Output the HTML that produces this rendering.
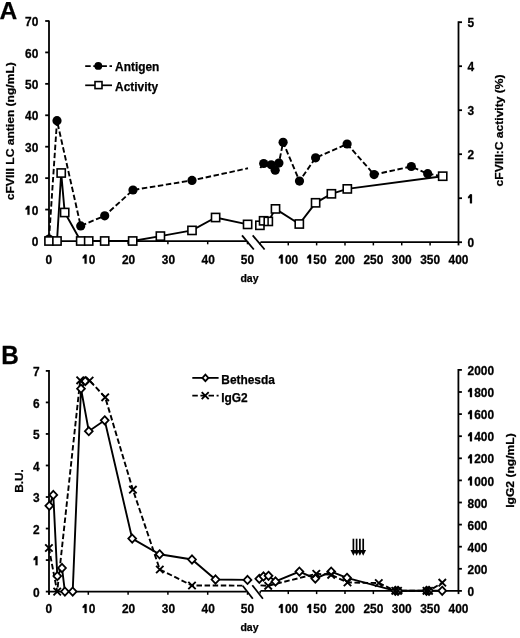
<!DOCTYPE html>
<html><head><meta charset="utf-8"><style>
html,body{margin:0;padding:0;background:#fff;width:520px;height:638px;overflow:hidden}
svg{display:block;filter:grayscale(1)}
text{fill:#000;stroke:#000;stroke-width:0.25px}
</style></head><body>
<svg width="520" height="638" viewBox="0 0 520 638" font-family='"Liberation Sans", sans-serif'>
<rect width="520" height="638" fill="#fff"/>
<text x="-0.6" y="19.4" font-size="24.6" text-anchor="start" font-weight="bold">A</text>
<line x1="49" y1="20.6" x2="49" y2="241.1" stroke="#000" stroke-width="1.8"/>
<line x1="45.2" y1="241.0" x2="49" y2="241.0" stroke="#000" stroke-width="1.8"/>
<text transform="translate(31.66,246.1) scale(1.02,1.06)" font-size="11.7" text-anchor="start" font-weight="bold">0</text>
<line x1="45.2" y1="209.57" x2="49" y2="209.57" stroke="#000" stroke-width="1.8"/>
<path d="M27.48,214.70V205.92H29.48V214.70Z" fill="#000" stroke="#000" stroke-width="0.25"/>
<path d="M27.53,205.92L29.03,205.92L27.63,209.22L25.58,209.72L25.58,208.22Z" fill="#000" stroke="#000" stroke-width="0.25"/>
<text transform="translate(31.66,214.7) scale(1.02,1.06)" font-size="11.7" text-anchor="start" font-weight="bold">0</text>
<line x1="45.2" y1="178.14" x2="49" y2="178.14" stroke="#000" stroke-width="1.8"/>
<text transform="translate(25.03,183.2) scale(1.02,1.06)" font-size="11.7" text-anchor="start" font-weight="bold">20</text>
<line x1="45.2" y1="146.71" x2="49" y2="146.71" stroke="#000" stroke-width="1.8"/>
<text transform="translate(25.03,151.8) scale(1.02,1.06)" font-size="11.7" text-anchor="start" font-weight="bold">30</text>
<line x1="45.2" y1="115.28" x2="49" y2="115.28" stroke="#000" stroke-width="1.8"/>
<text transform="translate(25.03,120.4) scale(1.02,1.06)" font-size="11.7" text-anchor="start" font-weight="bold">40</text>
<line x1="45.2" y1="83.85" x2="49" y2="83.85" stroke="#000" stroke-width="1.8"/>
<text transform="translate(25.03,88.9) scale(1.02,1.06)" font-size="11.7" text-anchor="start" font-weight="bold">50</text>
<line x1="45.2" y1="52.420000000000016" x2="49" y2="52.420000000000016" stroke="#000" stroke-width="1.8"/>
<text transform="translate(25.03,57.5) scale(1.02,1.06)" font-size="11.7" text-anchor="start" font-weight="bold">60</text>
<line x1="45.2" y1="20.99000000000001" x2="49" y2="20.99000000000001" stroke="#000" stroke-width="1.8"/>
<text transform="translate(25.03,26.1) scale(1.02,1.06)" font-size="11.7" text-anchor="start" font-weight="bold">70</text>
<line x1="458.5" y1="21.3" x2="458.5" y2="242.2" stroke="#000" stroke-width="1.8"/>
<line x1="458.5" y1="242.2" x2="462.0" y2="242.2" stroke="#000" stroke-width="1.8"/>
<text transform="translate(467.5,247.3) scale(1.02,1.06)" font-size="11.7" text-anchor="start" font-weight="bold">0</text>
<line x1="458.5" y1="198.2" x2="462.0" y2="198.2" stroke="#000" stroke-width="1.8"/>
<path d="M469.95,203.30V194.52H471.95V203.30Z" fill="#000" stroke="#000" stroke-width="0.25"/>
<path d="M470.00,194.52L471.50,194.52L470.10,197.82L468.05,198.32L468.05,196.82Z" fill="#000" stroke="#000" stroke-width="0.25"/>
<line x1="458.5" y1="154.2" x2="462.0" y2="154.2" stroke="#000" stroke-width="1.8"/>
<text transform="translate(467.5,159.3) scale(1.02,1.06)" font-size="11.7" text-anchor="start" font-weight="bold">2</text>
<line x1="458.5" y1="110.19999999999999" x2="462.0" y2="110.19999999999999" stroke="#000" stroke-width="1.8"/>
<text transform="translate(467.5,115.3) scale(1.02,1.06)" font-size="11.7" text-anchor="start" font-weight="bold">3</text>
<line x1="458.5" y1="66.19999999999999" x2="462.0" y2="66.19999999999999" stroke="#000" stroke-width="1.8"/>
<text transform="translate(467.5,71.3) scale(1.02,1.06)" font-size="11.7" text-anchor="start" font-weight="bold">4</text>
<line x1="458.5" y1="22.19999999999999" x2="462.0" y2="22.19999999999999" stroke="#000" stroke-width="1.8"/>
<text transform="translate(467.5,27.3) scale(1.02,1.06)" font-size="11.7" text-anchor="start" font-weight="bold">5</text>
<line x1="48.5" y1="241.1" x2="246.5" y2="241.1" stroke="#000" stroke-width="1.8"/>
<line x1="260.5" y1="242.2" x2="459" y2="242.2" stroke="#000" stroke-width="1.8"/>
<line x1="88.3" y1="241.1" x2="88.3" y2="244.29999999999998" stroke="#000" stroke-width="1.5"/>
<line x1="128.1" y1="241.1" x2="128.1" y2="244.29999999999998" stroke="#000" stroke-width="1.5"/>
<line x1="167.9" y1="241.1" x2="167.9" y2="244.29999999999998" stroke="#000" stroke-width="1.5"/>
<line x1="207.7" y1="241.1" x2="207.7" y2="244.29999999999998" stroke="#000" stroke-width="1.5"/>
<line x1="247.5" y1="241.1" x2="247.5" y2="244.29999999999998" stroke="#000" stroke-width="1.5"/>
<line x1="288.265" y1="242.2" x2="288.265" y2="245.39999999999998" stroke="#000" stroke-width="1.5"/>
<line x1="316.63" y1="242.2" x2="316.63" y2="245.39999999999998" stroke="#000" stroke-width="1.5"/>
<line x1="344.995" y1="242.2" x2="344.995" y2="245.39999999999998" stroke="#000" stroke-width="1.5"/>
<line x1="373.36" y1="242.2" x2="373.36" y2="245.39999999999998" stroke="#000" stroke-width="1.5"/>
<line x1="401.725" y1="242.2" x2="401.725" y2="245.39999999999998" stroke="#000" stroke-width="1.5"/>
<line x1="430.09" y1="242.2" x2="430.09" y2="245.39999999999998" stroke="#000" stroke-width="1.5"/>
<line x1="458.5" y1="242.2" x2="458.5" y2="245.39999999999998" stroke="#000" stroke-width="1.8"/>
<line x1="260.2" y1="242.2" x2="260.2" y2="244.7" stroke="#000" stroke-width="1.5"/>
<line x1="49" y1="241.1" x2="49" y2="244.29999999999998" stroke="#000" stroke-width="1.8"/>
<text transform="translate(45.48,263.6) scale(1.02,1.06)" font-size="11.7" text-anchor="start" font-weight="bold">0</text>
<path d="M84.61,263.60V254.82H86.61V263.60Z" fill="#000" stroke="#000" stroke-width="0.25"/>
<path d="M84.66,254.82L86.16,254.82L84.76,258.12L82.71,258.62L82.71,257.12Z" fill="#000" stroke="#000" stroke-width="0.25"/>
<text transform="translate(88.8,263.6) scale(1.02,1.06)" font-size="11.7" text-anchor="start" font-weight="bold">0</text>
<text transform="translate(121.96,263.6) scale(1.02,1.06)" font-size="11.7" text-anchor="start" font-weight="bold">20</text>
<text transform="translate(161.76,263.6) scale(1.02,1.06)" font-size="11.7" text-anchor="start" font-weight="bold">30</text>
<text transform="translate(201.56,263.6) scale(1.02,1.06)" font-size="11.7" text-anchor="start" font-weight="bold">40</text>
<text transform="translate(240.86,263.6) scale(1.02,1.06)" font-size="11.7" text-anchor="start" font-weight="bold">50</text>
<path d="M280.80,263.60V254.82H282.80V263.60Z" fill="#000" stroke="#000" stroke-width="0.25"/>
<path d="M280.85,254.82L282.35,254.82L280.95,258.12L278.90,258.62L278.90,257.12Z" fill="#000" stroke="#000" stroke-width="0.25"/>
<text transform="translate(284.98,263.6) scale(1.02,1.06)" font-size="11.7" text-anchor="start" font-weight="bold">00</text>
<path d="M309.10,263.60V254.82H311.10V263.60Z" fill="#000" stroke="#000" stroke-width="0.25"/>
<path d="M309.15,254.82L310.65,254.82L309.25,258.12L307.20,258.62L307.20,257.12Z" fill="#000" stroke="#000" stroke-width="0.25"/>
<text transform="translate(313.28,263.6) scale(1.02,1.06)" font-size="11.7" text-anchor="start" font-weight="bold">50</text>
<text transform="translate(335.05,263.6) scale(1.02,1.06)" font-size="11.7" text-anchor="start" font-weight="bold">200</text>
<text transform="translate(363.45,263.6) scale(1.02,1.06)" font-size="11.7" text-anchor="start" font-weight="bold">250</text>
<text transform="translate(391.75,263.6) scale(1.02,1.06)" font-size="11.7" text-anchor="start" font-weight="bold">300</text>
<text transform="translate(420.15,263.6) scale(1.02,1.06)" font-size="11.7" text-anchor="start" font-weight="bold">350</text>
<text transform="translate(448.55,263.6) scale(1.02,1.06)" font-size="11.7" text-anchor="start" font-weight="bold">400</text>
<text x="249.5" y="281.6" font-size="10.5" text-anchor="middle" font-weight="bold">day</text>
<text transform="translate(14.1,131.2) rotate(-90) scale(1.041,1)" font-size="11.6" font-weight="bold" text-anchor="middle">cFVIII LC antien (ng/mL)</text>
<text transform="translate(502.7,130.45) rotate(-90) scale(1.042,1)" font-size="11.6" font-weight="bold" text-anchor="middle">cFVIII:C activity (%)</text>
<line x1="242" y1="235.4" x2="253.8" y2="249.5" stroke="#000" stroke-width="1.8"/>
<line x1="252.7" y1="235.4" x2="264.6" y2="249.5" stroke="#000" stroke-width="1.8"/>
<polyline points="49,239 57,120.7 80.7,225.9 104.7,215.8 133,190 192,180.4 248,168.3" fill="none" stroke="#000" stroke-width="1.9" stroke-linejoin="miter" stroke-dasharray="5.5 2.6"/>
<polyline points="260.3,168.0 263.7,163.5 271.2,164.8 275.2,170.2 278.9,163.1 283.1,142.3 299.5,181.1 315.6,157.8 347.1,144 374.1,174.6 411.3,166.5 427.7,173.7 442.7,176.2" fill="none" stroke="#000" stroke-width="1.9" stroke-linejoin="miter" stroke-dasharray="5.5 2.6"/>
<polyline points="49,241 57,241 61.2,173 64.7,212.5 80.7,241 88.7,241 104.7,241 132.7,241 160.4,236.1 192,230.4 215.6,217.5 247.6,224.4" fill="none" stroke="#000" stroke-width="1.9" stroke-linejoin="miter"/>
<polyline points="259.9,225.3 263.6,220.8 268.3,221.4 275.5,208.9 299.3,224 315.6,202.8 331.4,193.8 347.3,188.9 442.7,176.2" fill="none" stroke="#000" stroke-width="1.9" stroke-linejoin="miter"/>
<circle cx="49" cy="239" r="4.6" fill="#000"/>
<circle cx="57" cy="120.7" r="4.6" fill="#000"/>
<circle cx="80.7" cy="225.9" r="4.6" fill="#000"/>
<circle cx="104.7" cy="215.8" r="4.6" fill="#000"/>
<circle cx="133" cy="190" r="4.6" fill="#000"/>
<circle cx="192" cy="180.4" r="4.6" fill="#000"/>
<circle cx="263.7" cy="163.5" r="4.6" fill="#000"/>
<circle cx="271.2" cy="164.8" r="4.6" fill="#000"/>
<circle cx="275.2" cy="170.2" r="4.6" fill="#000"/>
<circle cx="278.9" cy="163.1" r="4.6" fill="#000"/>
<circle cx="283.1" cy="142.3" r="4.6" fill="#000"/>
<circle cx="299.5" cy="181.1" r="4.6" fill="#000"/>
<circle cx="315.6" cy="157.8" r="4.6" fill="#000"/>
<circle cx="347.1" cy="144" r="4.6" fill="#000"/>
<circle cx="374.1" cy="174.6" r="4.6" fill="#000"/>
<circle cx="411.3" cy="166.5" r="4.6" fill="#000"/>
<circle cx="427.7" cy="173.7" r="4.6" fill="#000"/>
<rect x="44.9" y="236.9" width="8.2" height="8.2" fill="#fff" stroke="#000" stroke-width="1.6"/>
<rect x="52.9" y="236.9" width="8.2" height="8.2" fill="#fff" stroke="#000" stroke-width="1.6"/>
<rect x="57.1" y="168.9" width="8.2" height="8.2" fill="#fff" stroke="#000" stroke-width="1.6"/>
<rect x="60.6" y="208.4" width="8.2" height="8.2" fill="#fff" stroke="#000" stroke-width="1.6"/>
<rect x="76.60000000000001" y="236.9" width="8.2" height="8.2" fill="#fff" stroke="#000" stroke-width="1.6"/>
<rect x="84.60000000000001" y="236.9" width="8.2" height="8.2" fill="#fff" stroke="#000" stroke-width="1.6"/>
<rect x="100.60000000000001" y="236.9" width="8.2" height="8.2" fill="#fff" stroke="#000" stroke-width="1.6"/>
<rect x="128.6" y="236.9" width="8.2" height="8.2" fill="#fff" stroke="#000" stroke-width="1.6"/>
<rect x="156.3" y="232.0" width="8.2" height="8.2" fill="#fff" stroke="#000" stroke-width="1.6"/>
<rect x="187.9" y="226.3" width="8.2" height="8.2" fill="#fff" stroke="#000" stroke-width="1.6"/>
<rect x="211.5" y="213.4" width="8.2" height="8.2" fill="#fff" stroke="#000" stroke-width="1.6"/>
<rect x="243.5" y="220.3" width="8.2" height="8.2" fill="#fff" stroke="#000" stroke-width="1.6"/>
<rect x="255.79999999999998" y="221.20000000000002" width="8.2" height="8.2" fill="#fff" stroke="#000" stroke-width="1.6"/>
<rect x="259.5" y="216.70000000000002" width="8.2" height="8.2" fill="#fff" stroke="#000" stroke-width="1.6"/>
<rect x="264.2" y="217.3" width="8.2" height="8.2" fill="#fff" stroke="#000" stroke-width="1.6"/>
<rect x="271.4" y="204.8" width="8.2" height="8.2" fill="#fff" stroke="#000" stroke-width="1.6"/>
<rect x="295.2" y="219.9" width="8.2" height="8.2" fill="#fff" stroke="#000" stroke-width="1.6"/>
<rect x="311.5" y="198.70000000000002" width="8.2" height="8.2" fill="#fff" stroke="#000" stroke-width="1.6"/>
<rect x="327.29999999999995" y="189.70000000000002" width="8.2" height="8.2" fill="#fff" stroke="#000" stroke-width="1.6"/>
<rect x="343.2" y="184.8" width="8.2" height="8.2" fill="#fff" stroke="#000" stroke-width="1.6"/>
<rect x="438.59999999999997" y="172.1" width="8.2" height="8.2" fill="#fff" stroke="#000" stroke-width="1.6"/>
<line x1="268.1" y1="217" x2="268.1" y2="225.6" stroke="#000" stroke-width="1.5"/>
<line x1="85.2" y1="66.2" x2="112" y2="66.2" stroke="#000" stroke-width="1.7" stroke-dasharray="5.5 2.6"/>
<circle cx="98.3" cy="65.9" r="3.9" fill="#000"/>
<text x="115.1" y="71.4" font-size="11.9" text-anchor="start" font-weight="bold">Antigen</text>
<line x1="85.2" y1="85.3" x2="112" y2="85.3" stroke="#000" stroke-width="1.7"/>
<rect x="95.0" y="81.6" width="7.0" height="7.0" fill="#fff" stroke="#000" stroke-width="1.6"/>
<text x="115.1" y="90.9" font-size="11.9" text-anchor="start" font-weight="bold">Activity</text>
<text transform="translate(1.2,363.8) scale(0.95,1)" font-size="25.6" text-anchor="start" font-weight="bold">B</text>
<line x1="49" y1="370.0" x2="49" y2="594.6" stroke="#000" stroke-width="1.8"/>
<line x1="45.8" y1="591.6" x2="49" y2="591.6" stroke="#000" stroke-width="1.8"/>
<text transform="translate(33.06,596.7) scale(1.02,1.06)" font-size="11.7" text-anchor="start" font-weight="bold">0</text>
<line x1="45.8" y1="560.07" x2="49" y2="560.07" stroke="#000" stroke-width="1.8"/>
<path d="M35.51,565.20V556.42H37.51V565.20Z" fill="#000" stroke="#000" stroke-width="0.25"/>
<path d="M35.56,556.42L37.06,556.42L35.66,559.72L33.61,560.22L33.61,558.72Z" fill="#000" stroke="#000" stroke-width="0.25"/>
<line x1="45.8" y1="528.54" x2="49" y2="528.54" stroke="#000" stroke-width="1.8"/>
<text transform="translate(33.06,533.6) scale(1.02,1.06)" font-size="11.7" text-anchor="start" font-weight="bold">2</text>
<line x1="45.8" y1="497.01" x2="49" y2="497.01" stroke="#000" stroke-width="1.8"/>
<text transform="translate(33.06,502.1) scale(1.02,1.06)" font-size="11.7" text-anchor="start" font-weight="bold">3</text>
<line x1="45.8" y1="465.48" x2="49" y2="465.48" stroke="#000" stroke-width="1.8"/>
<text transform="translate(33.06,470.6) scale(1.02,1.06)" font-size="11.7" text-anchor="start" font-weight="bold">4</text>
<line x1="45.8" y1="433.95000000000005" x2="49" y2="433.95000000000005" stroke="#000" stroke-width="1.8"/>
<text transform="translate(33.06,439.1) scale(1.02,1.06)" font-size="11.7" text-anchor="start" font-weight="bold">5</text>
<line x1="45.8" y1="402.42" x2="49" y2="402.42" stroke="#000" stroke-width="1.8"/>
<text transform="translate(33.06,407.5) scale(1.02,1.06)" font-size="11.7" text-anchor="start" font-weight="bold">6</text>
<line x1="45.8" y1="370.89" x2="49" y2="370.89" stroke="#000" stroke-width="1.8"/>
<text transform="translate(33.06,376.0) scale(1.02,1.06)" font-size="11.7" text-anchor="start" font-weight="bold">7</text>
<line x1="458.4" y1="369.0" x2="458.4" y2="590.9" stroke="#000" stroke-width="1.8"/>
<line x1="458.4" y1="590.9" x2="461.9" y2="590.9" stroke="#000" stroke-width="1.8"/>
<text transform="translate(467.5,596.0) scale(1.02,1.06)" font-size="11.7" text-anchor="start" font-weight="bold">0</text>
<line x1="458.4" y1="568.8" x2="461.9" y2="568.8" stroke="#000" stroke-width="1.8"/>
<text transform="translate(467.5,573.9) scale(1.02,1.06)" font-size="11.7" text-anchor="start" font-weight="bold">200</text>
<line x1="458.4" y1="546.6999999999999" x2="461.9" y2="546.6999999999999" stroke="#000" stroke-width="1.8"/>
<text transform="translate(467.5,551.8) scale(1.02,1.06)" font-size="11.7" text-anchor="start" font-weight="bold">400</text>
<line x1="458.4" y1="524.5999999999999" x2="461.9" y2="524.5999999999999" stroke="#000" stroke-width="1.8"/>
<text transform="translate(467.5,529.7) scale(1.02,1.06)" font-size="11.7" text-anchor="start" font-weight="bold">600</text>
<line x1="458.4" y1="502.5" x2="461.9" y2="502.5" stroke="#000" stroke-width="1.8"/>
<text transform="translate(467.5,507.6) scale(1.02,1.06)" font-size="11.7" text-anchor="start" font-weight="bold">800</text>
<line x1="458.4" y1="480.4" x2="461.9" y2="480.4" stroke="#000" stroke-width="1.8"/>
<path d="M469.95,485.50V476.72H471.95V485.50Z" fill="#000" stroke="#000" stroke-width="0.25"/>
<path d="M470.00,476.72L471.50,476.72L470.10,480.02L468.05,480.52L468.05,479.02Z" fill="#000" stroke="#000" stroke-width="0.25"/>
<text transform="translate(474.14,485.5) scale(1.02,1.06)" font-size="11.7" text-anchor="start" font-weight="bold">000</text>
<line x1="458.4" y1="458.29999999999995" x2="461.9" y2="458.29999999999995" stroke="#000" stroke-width="1.8"/>
<path d="M469.95,463.40V454.62H471.95V463.40Z" fill="#000" stroke="#000" stroke-width="0.25"/>
<path d="M470.00,454.62L471.50,454.62L470.10,457.92L468.05,458.42L468.05,456.92Z" fill="#000" stroke="#000" stroke-width="0.25"/>
<text transform="translate(474.14,463.4) scale(1.02,1.06)" font-size="11.7" text-anchor="start" font-weight="bold">200</text>
<line x1="458.4" y1="436.19999999999993" x2="461.9" y2="436.19999999999993" stroke="#000" stroke-width="1.8"/>
<path d="M469.95,441.30V432.52H471.95V441.30Z" fill="#000" stroke="#000" stroke-width="0.25"/>
<path d="M470.00,432.52L471.50,432.52L470.10,435.82L468.05,436.32L468.05,434.82Z" fill="#000" stroke="#000" stroke-width="0.25"/>
<text transform="translate(474.14,441.3) scale(1.02,1.06)" font-size="11.7" text-anchor="start" font-weight="bold">400</text>
<line x1="458.4" y1="414.09999999999997" x2="461.9" y2="414.09999999999997" stroke="#000" stroke-width="1.8"/>
<path d="M469.95,419.20V410.42H471.95V419.20Z" fill="#000" stroke="#000" stroke-width="0.25"/>
<path d="M470.00,410.42L471.50,410.42L470.10,413.72L468.05,414.22L468.05,412.72Z" fill="#000" stroke="#000" stroke-width="0.25"/>
<text transform="translate(474.14,419.2) scale(1.02,1.06)" font-size="11.7" text-anchor="start" font-weight="bold">600</text>
<line x1="458.4" y1="392.0" x2="461.9" y2="392.0" stroke="#000" stroke-width="1.8"/>
<path d="M469.95,397.10V388.32H471.95V397.10Z" fill="#000" stroke="#000" stroke-width="0.25"/>
<path d="M470.00,388.32L471.50,388.32L470.10,391.62L468.05,392.12L468.05,390.62Z" fill="#000" stroke="#000" stroke-width="0.25"/>
<text transform="translate(474.14,397.1) scale(1.02,1.06)" font-size="11.7" text-anchor="start" font-weight="bold">800</text>
<line x1="458.4" y1="369.9" x2="461.9" y2="369.9" stroke="#000" stroke-width="1.8"/>
<text transform="translate(467.5,375.0) scale(1.02,1.06)" font-size="11.7" text-anchor="start" font-weight="bold">2000</text>
<line x1="48.5" y1="591.6" x2="246.5" y2="591.6" stroke="#000" stroke-width="1.8"/>
<line x1="260.5" y1="590.9" x2="459" y2="590.9" stroke="#000" stroke-width="1.8"/>
<line x1="88.3" y1="591.6" x2="88.3" y2="594.8000000000001" stroke="#000" stroke-width="1.5"/>
<line x1="128.1" y1="591.6" x2="128.1" y2="594.8000000000001" stroke="#000" stroke-width="1.5"/>
<line x1="167.9" y1="591.6" x2="167.9" y2="594.8000000000001" stroke="#000" stroke-width="1.5"/>
<line x1="207.7" y1="591.6" x2="207.7" y2="594.8000000000001" stroke="#000" stroke-width="1.5"/>
<line x1="247.5" y1="591.6" x2="247.5" y2="594.8000000000001" stroke="#000" stroke-width="1.5"/>
<line x1="288.265" y1="590.9" x2="288.265" y2="594.1" stroke="#000" stroke-width="1.5"/>
<line x1="316.63" y1="590.9" x2="316.63" y2="594.1" stroke="#000" stroke-width="1.5"/>
<line x1="344.995" y1="590.9" x2="344.995" y2="594.1" stroke="#000" stroke-width="1.5"/>
<line x1="373.36" y1="590.9" x2="373.36" y2="594.1" stroke="#000" stroke-width="1.5"/>
<line x1="401.725" y1="590.9" x2="401.725" y2="594.1" stroke="#000" stroke-width="1.5"/>
<line x1="430.09" y1="590.9" x2="430.09" y2="594.1" stroke="#000" stroke-width="1.5"/>
<line x1="458.5" y1="590.9" x2="458.5" y2="594.1" stroke="#000" stroke-width="1.8"/>
<line x1="260.2" y1="590.9" x2="260.2" y2="593.4" stroke="#000" stroke-width="1.5"/>
<line x1="49" y1="591.6" x2="49" y2="594.8000000000001" stroke="#000" stroke-width="1.8"/>
<text transform="translate(45.48,613) scale(1.02,1.06)" font-size="11.7" text-anchor="start" font-weight="bold">0</text>
<path d="M84.61,613.00V604.22H86.61V613.00Z" fill="#000" stroke="#000" stroke-width="0.25"/>
<path d="M84.66,604.22L86.16,604.22L84.76,607.52L82.71,608.02L82.71,606.52Z" fill="#000" stroke="#000" stroke-width="0.25"/>
<text transform="translate(88.8,613) scale(1.02,1.06)" font-size="11.7" text-anchor="start" font-weight="bold">0</text>
<text transform="translate(121.96,613) scale(1.02,1.06)" font-size="11.7" text-anchor="start" font-weight="bold">20</text>
<text transform="translate(161.76,613) scale(1.02,1.06)" font-size="11.7" text-anchor="start" font-weight="bold">30</text>
<text transform="translate(201.56,613) scale(1.02,1.06)" font-size="11.7" text-anchor="start" font-weight="bold">40</text>
<text transform="translate(240.86,613) scale(1.02,1.06)" font-size="11.7" text-anchor="start" font-weight="bold">50</text>
<path d="M280.80,613.00V604.22H282.80V613.00Z" fill="#000" stroke="#000" stroke-width="0.25"/>
<path d="M280.85,604.22L282.35,604.22L280.95,607.52L278.90,608.02L278.90,606.52Z" fill="#000" stroke="#000" stroke-width="0.25"/>
<text transform="translate(284.98,613) scale(1.02,1.06)" font-size="11.7" text-anchor="start" font-weight="bold">00</text>
<path d="M309.10,613.00V604.22H311.10V613.00Z" fill="#000" stroke="#000" stroke-width="0.25"/>
<path d="M309.15,604.22L310.65,604.22L309.25,607.52L307.20,608.02L307.20,606.52Z" fill="#000" stroke="#000" stroke-width="0.25"/>
<text transform="translate(313.28,613) scale(1.02,1.06)" font-size="11.7" text-anchor="start" font-weight="bold">50</text>
<text transform="translate(335.05,613) scale(1.02,1.06)" font-size="11.7" text-anchor="start" font-weight="bold">200</text>
<text transform="translate(363.45,613) scale(1.02,1.06)" font-size="11.7" text-anchor="start" font-weight="bold">250</text>
<text transform="translate(391.75,613) scale(1.02,1.06)" font-size="11.7" text-anchor="start" font-weight="bold">300</text>
<text transform="translate(420.15,613) scale(1.02,1.06)" font-size="11.7" text-anchor="start" font-weight="bold">350</text>
<text transform="translate(448.55,613) scale(1.02,1.06)" font-size="11.7" text-anchor="start" font-weight="bold">400</text>
<text x="249.5" y="630.5" font-size="10.5" text-anchor="middle" font-weight="bold">day</text>
<text transform="translate(23.4,481) rotate(-90) scale(1.08,1)" font-size="11" font-weight="bold" text-anchor="middle">B.U.</text>
<text transform="translate(514.1,470.5) rotate(-90) scale(1.035,1)" font-size="11.7" font-weight="bold" text-anchor="middle">IgG2 (ng/mL)</text>
<line x1="242.7" y1="585.7" x2="252.8" y2="598.7" stroke="#000" stroke-width="1.8"/>
<line x1="252.3" y1="585.2" x2="262.9" y2="598.7" stroke="#000" stroke-width="1.8"/>
<polyline points="48.9,548 57.2,591.6 80.2,380.3 89.6,380.6 105.2,397.3 132.9,489.7 159.8,569.5 192,585.5 243.7,585.6" fill="none" stroke="#000" stroke-width="1.9" stroke-linejoin="miter" stroke-dasharray="5.5 2.6"/>
<polyline points="260.5,585.4 268.2,585.8 316.3,573.8 331.2,574.8 347.5,582.5 378.8,583 395.3,590.8 398,590.8 426.5,590.8 429,590.8 442.3,582.7" fill="none" stroke="#000" stroke-width="1.9" stroke-linejoin="miter" stroke-dasharray="5.5 2.6"/>
<polyline points="49.3,505.8 53.3,494.9 57.3,576.1 62,568 64.9,591.6 72.7,591.6 81,388.7 88.8,431.2 104.7,420.3 132.2,538.6 159.6,554.3 192,559.5 215.5,579.5 247.5,579.9" fill="none" stroke="#000" stroke-width="1.9" stroke-linejoin="miter"/>
<polyline points="259.3,578.8 263.5,576.5 268.5,575.8 275.5,581.5 299.4,571.6 315.3,578.6 331.2,571.6 347,577.8 395.3,590.8 398,590.8 426.5,590.8 429,590.8 442.2,590.8" fill="none" stroke="#000" stroke-width="1.9" stroke-linejoin="miter"/>
<polyline points="81,388.7 85.3,381.2" fill="none" stroke="#000" stroke-width="1.9" stroke-linejoin="miter"/>
<polygon points="49.3,501.7 53.199999999999996,505.8 49.3,509.90000000000003 45.4,505.8" fill="#fff" stroke="#000" stroke-width="1.8" stroke-linejoin="miter"/>
<polygon points="53.3,490.79999999999995 57.199999999999996,494.9 53.3,499.0 49.4,494.9" fill="#fff" stroke="#000" stroke-width="1.8" stroke-linejoin="miter"/>
<polygon points="57.3,572.0 61.199999999999996,576.1 57.3,580.2 53.4,576.1" fill="#fff" stroke="#000" stroke-width="1.8" stroke-linejoin="miter"/>
<polygon points="62,563.9 65.9,568 62,572.1 58.1,568" fill="#fff" stroke="#000" stroke-width="1.8" stroke-linejoin="miter"/>
<polygon points="64.9,587.5 68.80000000000001,591.6 64.9,595.7 61.00000000000001,591.6" fill="#fff" stroke="#000" stroke-width="1.8" stroke-linejoin="miter"/>
<polygon points="72.7,587.5 76.60000000000001,591.6 72.7,595.7 68.8,591.6" fill="#fff" stroke="#000" stroke-width="1.8" stroke-linejoin="miter"/>
<polygon points="81,384.59999999999997 84.9,388.7 81,392.8 77.1,388.7" fill="#fff" stroke="#000" stroke-width="1.8" stroke-linejoin="miter"/>
<polygon points="88.8,427.09999999999997 92.7,431.2 88.8,435.3 84.89999999999999,431.2" fill="#fff" stroke="#000" stroke-width="1.8" stroke-linejoin="miter"/>
<polygon points="104.7,416.2 108.60000000000001,420.3 104.7,424.40000000000003 100.8,420.3" fill="#fff" stroke="#000" stroke-width="1.8" stroke-linejoin="miter"/>
<polygon points="132.2,534.5 136.1,538.6 132.2,542.7 128.29999999999998,538.6" fill="#fff" stroke="#000" stroke-width="1.8" stroke-linejoin="miter"/>
<polygon points="159.6,550.1999999999999 163.5,554.3 159.6,558.4 155.7,554.3" fill="#fff" stroke="#000" stroke-width="1.8" stroke-linejoin="miter"/>
<polygon points="192,555.4 195.9,559.5 192,563.6 188.1,559.5" fill="#fff" stroke="#000" stroke-width="1.8" stroke-linejoin="miter"/>
<polygon points="215.5,575.4 219.4,579.5 215.5,583.6 211.6,579.5" fill="#fff" stroke="#000" stroke-width="1.8" stroke-linejoin="miter"/>
<polygon points="247.5,575.8 251.4,579.9 247.5,584.0 243.6,579.9" fill="#fff" stroke="#000" stroke-width="1.8" stroke-linejoin="miter"/>
<polygon points="259.3,574.6999999999999 263.2,578.8 259.3,582.9 255.4,578.8" fill="#fff" stroke="#000" stroke-width="1.8" stroke-linejoin="miter"/>
<polygon points="263.5,572.4 267.4,576.5 263.5,580.6 259.6,576.5" fill="#fff" stroke="#000" stroke-width="1.8" stroke-linejoin="miter"/>
<polygon points="268.5,571.6999999999999 272.4,575.8 268.5,579.9 264.6,575.8" fill="#fff" stroke="#000" stroke-width="1.8" stroke-linejoin="miter"/>
<polygon points="275.5,577.4 279.4,581.5 275.5,585.6 271.6,581.5" fill="#fff" stroke="#000" stroke-width="1.8" stroke-linejoin="miter"/>
<polygon points="299.4,567.5 303.29999999999995,571.6 299.4,575.7 295.5,571.6" fill="#fff" stroke="#000" stroke-width="1.8" stroke-linejoin="miter"/>
<polygon points="315.3,574.5 319.2,578.6 315.3,582.7 311.40000000000003,578.6" fill="#fff" stroke="#000" stroke-width="1.8" stroke-linejoin="miter"/>
<polygon points="331.2,567.5 335.09999999999997,571.6 331.2,575.7 327.3,571.6" fill="#fff" stroke="#000" stroke-width="1.8" stroke-linejoin="miter"/>
<polygon points="347,573.6999999999999 350.9,577.8 347,581.9 343.1,577.8" fill="#fff" stroke="#000" stroke-width="1.8" stroke-linejoin="miter"/>
<polygon points="395.3,586.6999999999999 399.2,590.8 395.3,594.9 391.40000000000003,590.8" fill="#fff" stroke="#000" stroke-width="1.8" stroke-linejoin="miter"/>
<polygon points="398,586.6999999999999 401.9,590.8 398,594.9 394.1,590.8" fill="#fff" stroke="#000" stroke-width="1.8" stroke-linejoin="miter"/>
<polygon points="426.5,586.6999999999999 430.4,590.8 426.5,594.9 422.6,590.8" fill="#fff" stroke="#000" stroke-width="1.8" stroke-linejoin="miter"/>
<polygon points="429,586.6999999999999 432.9,590.8 429,594.9 425.1,590.8" fill="#fff" stroke="#000" stroke-width="1.8" stroke-linejoin="miter"/>
<polygon points="442.2,586.6999999999999 446.09999999999997,590.8 442.2,594.9 438.3,590.8" fill="#fff" stroke="#000" stroke-width="1.8" stroke-linejoin="miter"/>
<polygon points="85.3,377.09999999999997 89.2,381.2 85.3,385.3 81.39999999999999,381.2" fill="#fff" stroke="#000" stroke-width="1.8" stroke-linejoin="miter"/>
<path d="M45.199999999999996,544.3L52.6,551.7M52.6,544.3L45.199999999999996,551.7" stroke="#000" stroke-width="1.9" fill="none"/>
<path d="M53.5,587.9L60.900000000000006,595.3000000000001M60.900000000000006,587.9L53.5,595.3000000000001" stroke="#000" stroke-width="1.9" fill="none"/>
<path d="M76.5,376.6L83.9,384.0M83.9,376.6L76.5,384.0" stroke="#000" stroke-width="1.9" fill="none"/>
<path d="M85.89999999999999,376.90000000000003L93.3,384.3M93.3,376.90000000000003L85.89999999999999,384.3" stroke="#000" stroke-width="1.9" fill="none"/>
<path d="M101.5,393.6L108.9,401.0M108.9,393.6L101.5,401.0" stroke="#000" stroke-width="1.9" fill="none"/>
<path d="M129.20000000000002,486.0L136.6,493.4M136.6,486.0L129.20000000000002,493.4" stroke="#000" stroke-width="1.9" fill="none"/>
<path d="M156.10000000000002,565.8L163.5,573.2M163.5,565.8L156.10000000000002,573.2" stroke="#000" stroke-width="1.9" fill="none"/>
<path d="M188.3,581.8L195.7,589.2M195.7,581.8L188.3,589.2" stroke="#000" stroke-width="1.9" fill="none"/>
<path d="M264.5,582.0999999999999L271.9,589.5M271.9,582.0999999999999L264.5,589.5" stroke="#000" stroke-width="1.9" fill="none"/>
<path d="M312.6,570.0999999999999L320.0,577.5M320.0,570.0999999999999L312.6,577.5" stroke="#000" stroke-width="1.9" fill="none"/>
<path d="M327.5,571.0999999999999L334.9,578.5M334.9,571.0999999999999L327.5,578.5" stroke="#000" stroke-width="1.9" fill="none"/>
<path d="M343.8,578.8L351.2,586.2M351.2,578.8L343.8,586.2" stroke="#000" stroke-width="1.9" fill="none"/>
<path d="M375.1,579.3L382.5,586.7M382.5,579.3L375.1,586.7" stroke="#000" stroke-width="1.9" fill="none"/>
<path d="M391.6,587.0999999999999L399.0,594.5M399.0,587.0999999999999L391.6,594.5" stroke="#000" stroke-width="1.9" fill="none"/>
<path d="M394.3,587.0999999999999L401.7,594.5M401.7,587.0999999999999L394.3,594.5" stroke="#000" stroke-width="1.9" fill="none"/>
<path d="M422.8,587.0999999999999L430.2,594.5M430.2,587.0999999999999L422.8,594.5" stroke="#000" stroke-width="1.9" fill="none"/>
<path d="M425.3,587.0999999999999L432.7,594.5M432.7,587.0999999999999L425.3,594.5" stroke="#000" stroke-width="1.9" fill="none"/>
<path d="M438.6,579.0L446.0,586.4000000000001M446.0,579.0L438.6,586.4000000000001" stroke="#000" stroke-width="1.9" fill="none"/>
<line x1="353.4" y1="538.7" x2="353.4" y2="551" stroke="#000" stroke-width="1.7"/>
<polygon points="350.5,550 356.29999999999995,550 353.4,555.7" fill="#000"/>
<line x1="356.6" y1="538.7" x2="356.6" y2="551" stroke="#000" stroke-width="1.7"/>
<polygon points="353.70000000000005,550 359.5,550 356.6,555.7" fill="#000"/>
<line x1="359.9" y1="538.7" x2="359.9" y2="551" stroke="#000" stroke-width="1.7"/>
<polygon points="357.0,550 362.79999999999995,550 359.9,555.7" fill="#000"/>
<line x1="363.2" y1="538.7" x2="363.2" y2="551" stroke="#000" stroke-width="1.7"/>
<polygon points="360.3,550 366.09999999999997,550 363.2,555.7" fill="#000"/>
<line x1="192.3" y1="377.9" x2="218.6" y2="377.9" stroke="#000" stroke-width="1.8"/>
<polygon points="205.4,374.59999999999997 208.4,377.9 205.4,381.2 202.4,377.9" fill="#fff" stroke="#000" stroke-width="1.8" stroke-linejoin="miter"/>
<text x="221.3" y="384.0" font-size="11.9" text-anchor="start" font-weight="bold">Bethesda</text>
<line x1="192.3" y1="395.7" x2="218.6" y2="395.7" stroke="#000" stroke-width="1.8" stroke-dasharray="5.5 2.6"/>
<path d="M201.7,392.2L208.7,399.2M208.7,392.2L201.7,399.2" stroke="#000" stroke-width="1.9" fill="none"/>
<text x="221.3" y="401.8" font-size="11.9" text-anchor="start" font-weight="bold">IgG2</text>
</svg>
</body></html>
